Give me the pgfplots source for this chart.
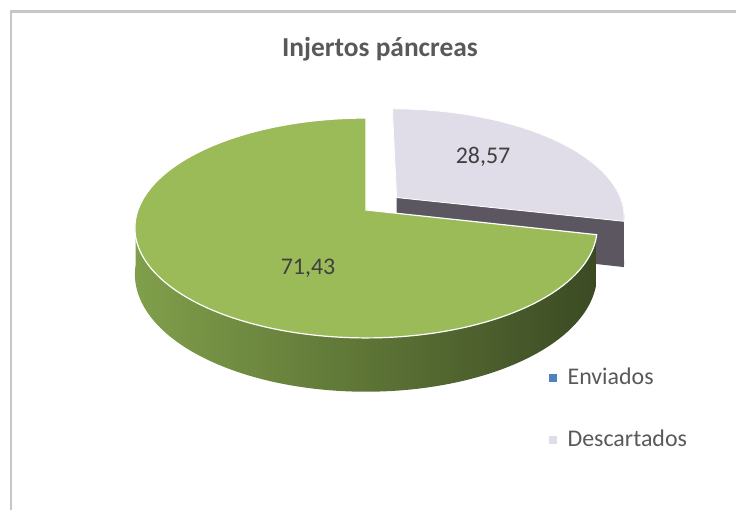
\documentclass[border=0pt]{standalone}
\usepackage{fontspec}
\setmainfont{Carlito}
\usepackage{pgfplots}
\pgfplotsset{compat=1.18}
\definecolor{cgreen}{HTML}{9BBB59}
\definecolor{clav}{HTML}{E0DCE8}
\definecolor{cdark}{HTML}{5B5660}
\definecolor{gleft}{HTML}{809F4A}
\definecolor{gmid}{HTML}{536A2F}
\definecolor{gright}{HTML}{3B4A23}
\definecolor{cblue}{HTML}{4F81BD}
\definecolor{ctitle}{HTML}{595959}
\definecolor{clabel}{HTML}{404040}
\definecolor{cframe}{HTML}{C6C6C6}
% data (percent)
\def\Enviados{71.43}
\def\Descartados{28.57}
\begin{document}
\begin{tikzpicture}
\pgfmathsetmacro{\Aend}{90+3.6*\Enviados}
\pgfmathsetmacro{\Bstart}{90-3.6*\Descartados}
\pgfmathsetmacro{\Bmid}{90-1.8*\Descartados}
\pgfmathsetmacro{\ou}{0.175*cos(\Bmid)}
\pgfmathsetmacro{\ov}{0.19*sin(\Bmid)}
\begin{axis}[
  width=736bp, height=510bp, scale only axis,
  xmin=0, xmax=736, ymin=0, ymax=510, y dir=reverse,
  axis line style={draw=none}, xtick=\empty, ytick=\empty,
  clip=true,
  declare function={
    PX(\u,\v)=366+228*\u/(1+0.1636*\v);
    PY(\u,\v,\z)=210+(-107*\v+45*\z)/(1+0.1636*\v);
    TS(\s,\a,\b)=(\s<1.005) ? (\a+\s*(\b-\a)) : (\b-max(\s-1.01,0)/0.99*(\b-\a));
    ZS(\s)=(\s<1.005) ? 0 : 1;
    RF(\s)=((\s < -0.005) || (\s > 1.005)) ? 0 : 1;
    TF(\s,\a,\b)=\a+min(max(\s,0),1)*(\b-\a);
    RQ(\s)=((\s > 0.5) && (\s < 2.5)) ? 1 : 0;
    ZQ(\s)=(\s > 1.5) ? 1 : 0;
  },
  legend style={at={(axis cs:549,366)}, anchor=north west, draw=none, fill=none,
    font=\fontsize{24}{24}\selectfont, text=ctitle, row sep=40bp, inner sep=0pt,
    /tikz/every odd column/.append style={column sep=9bp}},
  legend cell align=left,
]
% frame
\addplot[forget plot, draw=cframe, line width=2.2bp] coordinates {(11,530) (11,11.5) (750,11.5)};
% Descartados: outer side
\addplot[forget plot, draw=none, fill=cdark, domain=0:2, samples=81, variable=\t]
 ({PX(cos(TS(\t,\Bstart,5))+\ou, sin(TS(\t,\Bstart,5))+\ov)},
  {PY(cos(TS(\t,\Bstart,5))+\ou, sin(TS(\t,\Bstart,5))+\ov, ZS(\t))}) -- cycle;
% Descartados: cut face
\addplot[forget plot, draw=none, fill=cdark, samples at={0,1,2,3}, variable=\t]
 ({PX(RQ(\t)*cos(\Bstart)+\ou, RQ(\t)*sin(\Bstart)+\ov)},
  {PY(RQ(\t)*cos(\Bstart)+\ou, RQ(\t)*sin(\Bstart)+\ov, ZQ(\t))}) -- cycle;
% Descartados: top
\addplot[forget plot, draw=white, line width=0.8bp, fill=clav, domain=-0.01:1.01, samples=103, variable=\t]
 ({PX(RF(\t)*cos(TF(\t,\Bstart,90))+\ou, RF(\t)*sin(TF(\t,\Bstart,90))+\ov)},
  {PY(RF(\t)*cos(TF(\t,\Bstart,90))+\ou, RF(\t)*sin(TF(\t,\Bstart,90))+\ov, 0)}) -- cycle;
% Enviados: outer side
\addplot[forget plot, draw=none, left color=gleft, middle color=gmid, right color=gright, domain=0:2, samples=201, variable=\t]
 ({PX(cos(TS(\t,185,\Aend)), sin(TS(\t,185,\Aend)))},
  {PY(cos(TS(\t,185,\Aend)), sin(TS(\t,185,\Aend)), ZS(\t))}) -- cycle;
% Enviados: top
\addplot[forget plot, draw=white, line width=1.2bp, fill=cgreen, domain=-0.01:1.01, samples=203, variable=\t]
 ({PX(RF(\t)*cos(TF(\t,90,\Aend)), RF(\t)*sin(TF(\t,90,\Aend)))},
  {PY(RF(\t)*cos(TF(\t,90,\Aend)), RF(\t)*sin(TF(\t,90,\Aend)), 0)}) -- cycle;
% labels
\node[font=\fontsize{24}{24}\selectfont, text=clabel] at (axis cs:308,268) {71,43};
\node[font=\fontsize{24}{24}\selectfont, text=clabel] at (axis cs:483,157) {28,57};
\node[font=\fontsize{27.5}{27.5}\selectfont\bfseries, text=ctitle, anchor=base] at (axis cs:380,57) {Injertos páncreas};
% legend
\addlegendimage{legend image code/.code={\fill[cblue] (0bp,-3.5bp) rectangle (7bp,3.5bp);}}
\addlegendentry{Enviados}
\addlegendimage{legend image code/.code={\fill[clav] (0bp,-3.5bp) rectangle (7bp,3.5bp);}}
\addlegendentry{Descartados}
\end{axis}
\end{tikzpicture}
\end{document}
